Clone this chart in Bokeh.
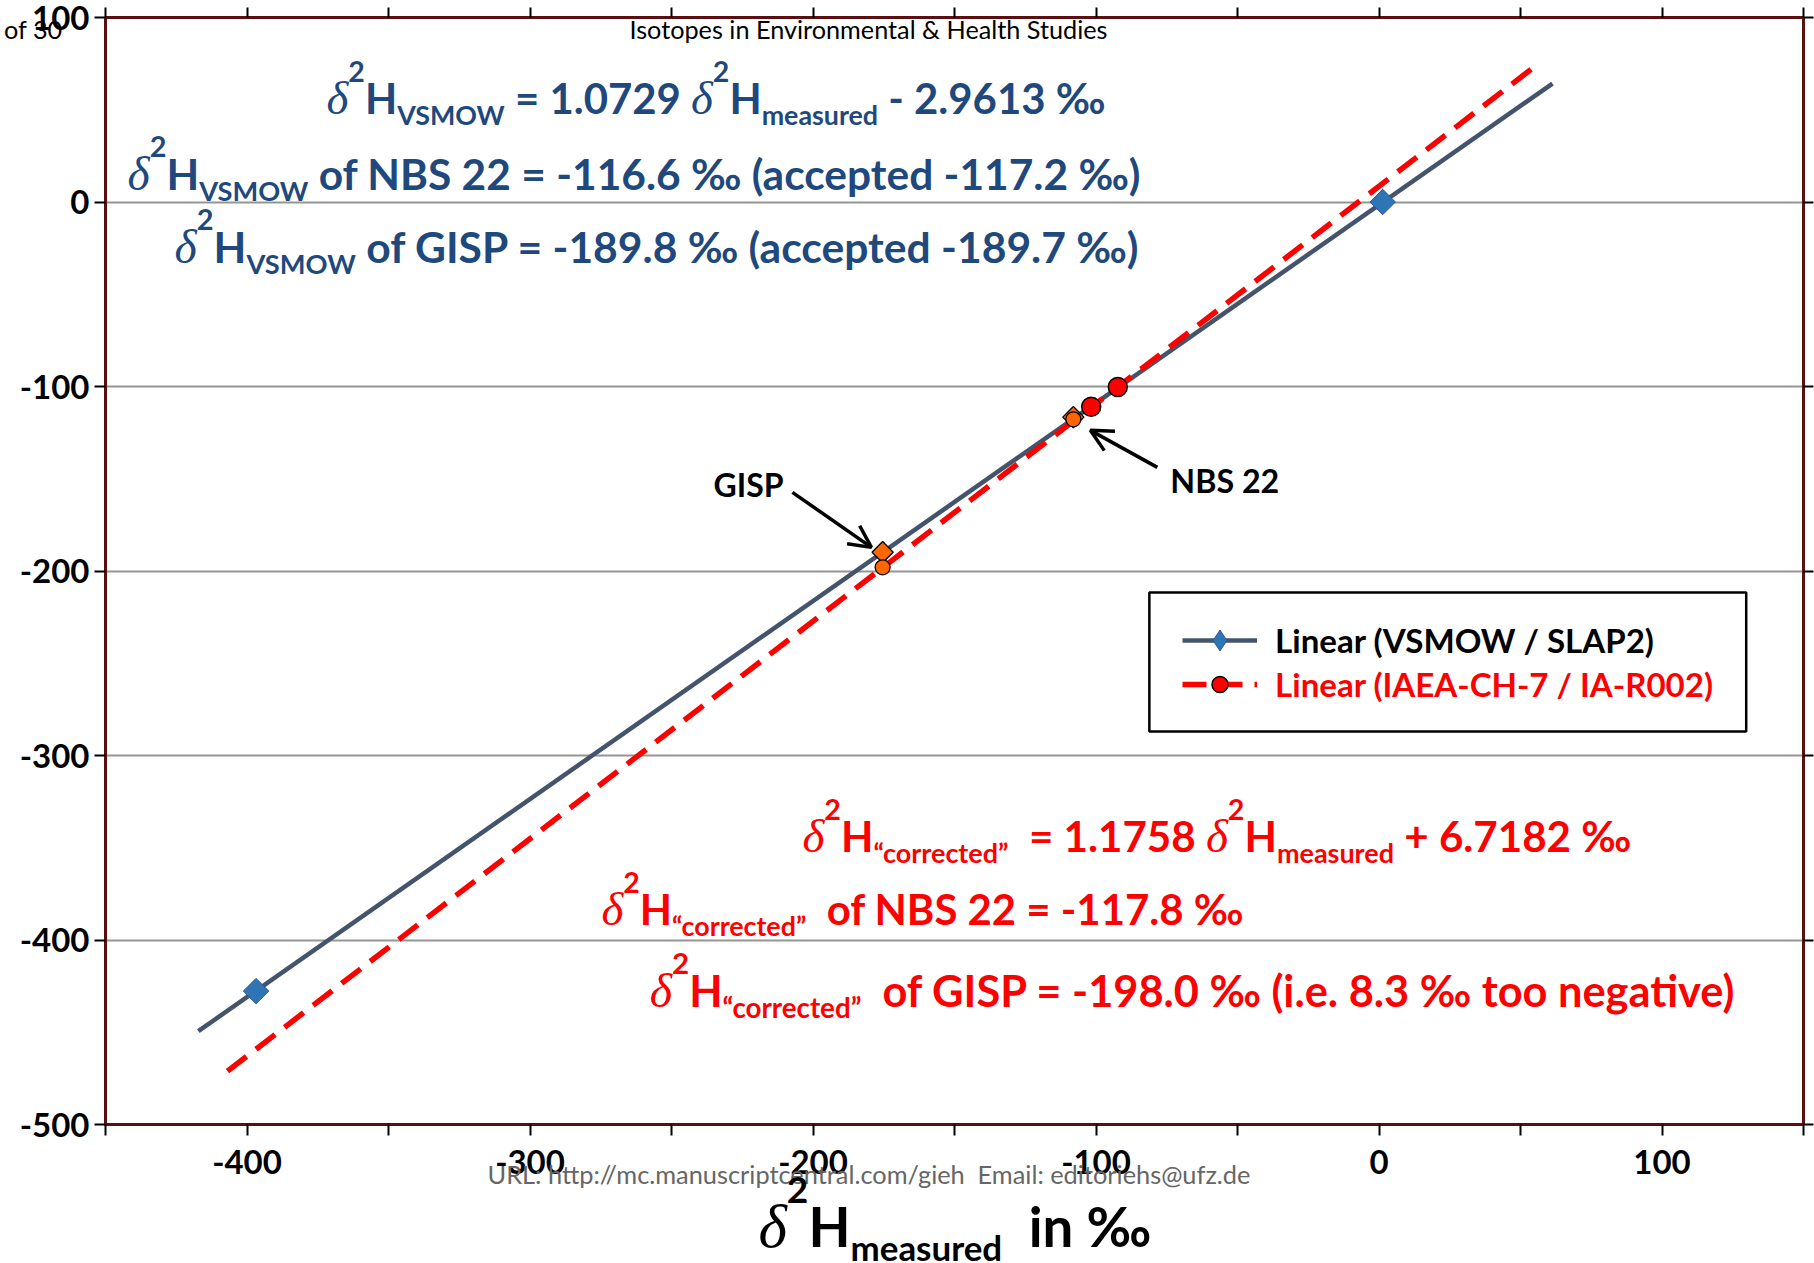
import os
import subprocess
from bokeh.plotting import figure
from bokeh.models import (Range1d, LinearAxis, FixedTicker, LabelSet, Label, Arrow, OpenHead,
                          BoxAnnotation, Legend, LegendItem, Grid, ColumnDataSource, GridBox)
from bokeh.core.properties import field
from bokeh.embed import file_html
from bokeh.resources import INLINE

# ---------------- data ----------------
std_vsmow_x = [1.3, -396.8]        # VSMOW, SLAP2 (measured)
std_vsmow_y = [0.0, -427.7]        # accepted VSMOW scale
std_ch7_x = [-92.3, -101.7]        # IAEA-CH-7, IA-R002 (measured)
std_ch7_y = [-100.3, -111.0]
sample_names = ["NBS 22", "GISP"]
sample_x = [-108.0, -175.4]
sample_vsmow_y = [-116.6, -189.8]
sample_corr_y = [-117.8, -198.0]
fit_vsmow_x = [-417.2, 61.3]
fit_vsmow_y = [-449.4, 64.2]
fit_ch7_x = [-406.9, 55.2]
fit_ch7_y = [-471.1, 73.6]
x_label_ticks = [-400, -300, -200, -100, 0, 100]
x_minor_ticks = [-450, -350, -250, -150, -50, 50, 150]
x_all_ticks = [-450, -400, -350, -300, -250, -200, -150, -100, -50, 0, 50, 100, 150]
y_ticks = [-500, -400, -300, -200, -100, 0, 100]
grid_ticks = [-400, -300, -200, -100, 0]

X_RANGE = (-450, 150)
Y_RANGE = (-500, 100)

# ---------------- text measuring ----------------
_fcache = {}


def _font_file(family, style):
    pat = family
    if "bold" in style:
        pat += ":bold"
    if "italic" in style:
        pat += ":italic"
    try:
        out = subprocess.run(["fc-match", "-f", "%{file}", pat], capture_output=True,
                             text=True, timeout=10).stdout.strip()
        if out and os.path.exists(out):
            return out
    except Exception:
        pass
    return None


def _pil_font(family, style):
    key = (family, style)
    if key not in _fcache:
        f = None
        try:
            from PIL import ImageFont
            path = _font_file(family, style)
            if path:
                f = ImageFont.truetype(path, 200)
        except Exception:
            f = None
        _fcache[key] = f
    return _fcache[key]


FAM = {"b": ("Lato", "bold"), "r": ("Lato", "normal"), "d": ("Liberation Serif", "italic"),
       "sup": ("Lato", "bold"), "sub": ("Lato", "bold")}
REL = {"b": 1.0, "r": 1.0, "d": 1.12, "sup": 0.68, "sub": 0.64}
SHIFT = {"b": 0.0, "r": 0.0, "d": 0.0, "sup": 0.78, "sub": -0.25}
LABEL_VOFF = {"Lato": 0.39, "Liberation Serif": 0.34}   # baseline correction for Label


def tw(text, st, size):
    fam, style = FAM[st]
    f = _pil_font(fam, style)
    if f is None:
        return 0.55 * size * len(text)
    return f.getlength(text) * size / 200.0


# reference pixel -> data mapping for annotation placement
PX0, PXS = 1378.7, 2.8307
PY0, PYS = 201.7, 1.8446


def dx(X):
    return (X - PX0) / PXS


def dy(Y):
    return (PY0 - Y) / PYS


W_PAGE, H_PAGE = 1814, 1263

p = figure(width=W_PAGE, height=H_PAGE, x_range=Range1d(*X_RANGE), y_range=Range1d(*Y_RANGE),
           output_backend="svg", toolbar_location=None, x_axis_location=None, y_axis_location=None,
           min_border_left=105, min_border_right=11, min_border_top=17, min_border_bottom=139,
           background_fill_color="white", border_fill_color="white")
p.grid.visible = False
p.outline_line_color = "#5a1010"
p.outline_line_width = 3

AXC = "#5a1010"
tick_size = 33


def make_axis(ticker, out, label_size, standoff, overrides=None):
    ax = LinearAxis(ticker=ticker, axis_line_color=AXC, axis_line_width=3,
                    major_tick_in=0, major_tick_out=out, minor_tick_in=0, minor_tick_out=out,
                    major_tick_line_color="black", major_tick_line_width=2,
                    minor_tick_line_color="black", minor_tick_line_width=2,
                    major_label_text_font="Lato", major_label_text_font_style="bold",
                    major_label_text_font_size=label_size, major_label_text_color="black",
                    major_label_standoff=standoff)
    if overrides:
        ax.major_label_overrides = overrides
    return ax


p.add_layout(make_axis(FixedTicker(ticks=x_label_ticks, minor_ticks=x_minor_ticks), 11,
                       f"{tick_size}px", 14, {float(t): str(t) for t in x_label_ticks}), "below")
p.add_layout(make_axis(FixedTicker(ticks=y_ticks, minor_ticks=[]), 11, f"{tick_size}px", 5,
                       {float(t): str(t) for t in y_ticks}), "left")
# top and right axes carry ticks only (drawn as minor ticks, so no labels)
p.add_layout(make_axis(FixedTicker(ticks=[], minor_ticks=x_all_ticks), 10, "10px", 0), "above")
p.add_layout(make_axis(FixedTicker(ticks=[], minor_ticks=y_ticks), 10, "10px", 0), "right")
p.add_layout(Grid(dimension=1, ticker=FixedTicker(ticks=grid_ticks), grid_line_color="#959595",
                  grid_line_width=2))

# ---------------- marks ----------------
l_vsmow = p.line(fit_vsmow_x, fit_vsmow_y, line_color="#44546A", line_width=4.5)
l_ch7 = p.line(fit_ch7_x, fit_ch7_y, line_color="#FF0000", line_width=5.5, line_dash="24 12")
s_vsmow = p.scatter(std_vsmow_x, std_vsmow_y, marker="square", angle=0.7854, size=18,
                    fill_color="#2E75B6", line_color="#2F5597", line_width=1)
s_ch7 = p.scatter(std_ch7_x, std_ch7_y, marker="circle", size=19, fill_color="#FF0000",
                  line_color="black", line_width=1.5)
p.scatter(sample_x, sample_vsmow_y, marker="square", angle=0.7854, size=15,
          fill_color="#FF6600", line_color="black", line_width=1.3)
p.scatter(sample_x, sample_corr_y, marker="circle", size=15, fill_color="#FF6600",
          line_color="black", line_width=1.3)
# legend-only glyph (diamond symbol of the VSMOW/SLAP2 series); NaN -> nothing on the plot
leg_diamond = p.scatter(x=[float("nan")], y=[float("nan")], marker="diamond",
                        fill_color="#2E75B6", line_color="#2F5597", line_width=1)


# ---------------- text layout helpers ----------------
def rich(segs, X, Y, W, S, color):
    """Lay out a run of styled pieces; returns list of piece dicts in page pixels."""
    out = []
    base = sum(tw(t, st, S * REL[st]) for t, st in segs)
    k = W / base if base > 0 else 1.0
    S2 = S * k
    x = X
    for t, st in segs:
        size = S2 * REL[st]
        fam, style = FAM[st]
        stripped = t.lstrip(" ")
        lead = tw(t[:len(t) - len(stripped)], st, size)
        txt = stripped.rstrip(" ")
        if txt:
            out.append(dict(X=x + lead, Y=Y - S2 * SHIFT[st], text=txt, font=fam, style=style,
                            size=size, color=color, align="left"))
        x += tw(t, st, size)
    return out


def fit(text, st, W, S=40):
    w = tw(text, st, S)
    return S * W / w if w > 0 else S


def piece(X, Y, text, fam, style, size, color, align="left"):
    return dict(X=X, Y=Y, text=text, font=fam, style=style, size=size, color=color, align=align)


D = [("δ", "d"), ("2", "sup"), ("H", "b")]
BLUE = "#1F497D"
RED = "#FF0000"

inside = []
inside += rich(D + [("VSMOW", "sub"), (" = 1.0729 ", "b")] + D +
               [("measured", "sub"), (" - 2.9613 ‰", "b")], 326, 114, 779, 40, BLUE)
inside += rich(D + [("VSMOW", "sub"), (" of NBS 22 = -116.6 ‰ (accepted -117.2 ‰)", "b")],
               127, 190, 1013, 40, BLUE)
inside += rich(D + [("VSMOW", "sub"), (" of GISP = -189.8 ‰ (accepted -189.7 ‰)", "b")],
               174, 263, 964, 40, BLUE)
inside += rich(D + [("“corrected”", "sub"), ("  = 1.1758 ", "b")] + D +
               [("measured", "sub"), (" + 6.7182 ‰", "b")], 802, 852, 829, 40, RED)
inside += rich(D + [("“corrected”", "sub"), ("  of NBS 22 = -117.8 ‰", "b")],
               601, 925, 642, 40, RED)
inside += rich(D + [("“corrected”", "sub"), ("  of GISP = -198.0 ‰ (i.e. 8.3 ‰ too negative)", "b")],
               649, 1007, 1085, 40, RED)
for name, left, base, wid in [("GISP", 713, 497, 70), ("NBS 22", 1170, 493, 109)]:
    inside.append(piece(left, base, name, "Lato", "bold", fit(name, "b", wid), "black"))
hs = fit("Isotopes in Environmental & Health Studies", "r", 478)
inside.append(piece(629, 39, "Isotopes in Environmental & Health Studies", "Lato", "normal",
                    hs, "black"))

src_in = ColumnDataSource(dict(
    x=[dx(r["X"]) for r in inside], y=[dy(r["Y"]) for r in inside],
    text=[r["text"] for r in inside], font=[r["font"] for r in inside],
    style=[r["style"] for r in inside], size=[f"{r['size']:.2f}px" for r in inside],
    color=[r["color"] for r in inside], align=[r["align"] for r in inside]))
p.add_layout(LabelSet(x="x", y="y", text="text", source=src_in, text_font=field("font"),
                      text_font_style=field("style"), text_font_size=field("size"),
                      text_color=field("color"), text_align=field("align"),
                      text_baseline="alphabetic"))

# arrows
for (x0, y0, x1, y1) in [(792, 492, 871, 547), (1157, 467, 1090, 430)]:
    p.add_layout(Arrow(end=OpenHead(size=22, line_width=3.5, line_color="black"),
                       x_start=dx(x0), y_start=dy(y0), x_end=dx(x1), y_end=dy(y1),
                       line_width=3.5, line_color="black"))

# legend
p.add_layout(BoxAnnotation(left=dx(1149), right=dx(1746), top=dy(592), bottom=dy(731),
                           fill_color="white", fill_alpha=1, line_color="black",
                           line_alpha=1, line_width=2.5))
ls = (fit("Linear (VSMOW / SLAP2)", "b", 380) + fit("Linear (IAEA-CH-7 / IA-R002)", "b", 437)) / 2
FL, FB = 104.9, 1124.0
common = dict(orientation="vertical", padding=0, margin=0, spacing=0, border_line_alpha=0,
              background_fill_alpha=0, glyph_width=75, label_height=40,
              label_standoff=18, label_text_font="Lato", label_text_font_style="bold",
              label_text_font_size=f"{ls:.2f}px")
leg1 = Legend(items=[LegendItem(label="Linear (VSMOW / SLAP2)", renderers=[l_vsmow, leg_diamond])],
              location=(1182 - FL, FB - 666), label_text_color="black", glyph_height=52, **common)
leg2 = Legend(items=[LegendItem(label="Linear (IAEA-CH-7 / IA-R002)", renderers=[l_ch7, s_ch7])],
              location=(1182 - FL, FB - 704), label_text_color="#FF0000", glyph_height=40, **common)
p.add_layout(leg1)
p.add_layout(leg2)

# ---------------- texts outside the plot frame ----------------
# x axis title, footer and page counter.  They are drawn by transparent overlay sheets that
# share the frame of the chart; each piece sits in a side panel of a sheet (side panels are
# not clipped), spread over several sheets so that no panel grows beyond the chart's margins.
xt = rich(D + [("measured", "sub"), ("  in ‰", "b")], 758, 1247, 393, 56, "black")
ft = rich([("URL: http://mc.manuscriptcentral.com/gieh  ", "r"), ("Email: editoriehs@ufz.de", "r")],
          487, 1183, 763, 24, "#666666")
pc = piece(62, 39, "0 of 30", "Lato", "normal", hs, "black", align="right")

# (piece, sheet index, panel)
plan = [(xt[0], 1, "left"), (xt[1], 2, "left"), (xt[2], 1, "below"), (xt[3], 2, "below"),
        (xt[4], 0, "below"), (ft[0], 1, "below"), (ft[1], 0, "below"), (pc, 0, "left")]

sheets = []
for i in range(3):
    q = figure(width=W_PAGE, height=H_PAGE, x_range=Range1d(*X_RANGE), y_range=Range1d(*Y_RANGE),
               output_backend="svg", toolbar_location=None, x_axis_location=None,
               y_axis_location=None, min_border_left=0, min_border_right=0, min_border_top=0,
               min_border_bottom=0, background_fill_alpha=0, border_fill_alpha=0,
               outline_line_color=None)
    q.grid.visible = False
    sheets.append(q)

for r, si, panel in plan:
    lab = Label(x=dx(r["X"]), y=dy(r["Y"] - LABEL_VOFF.get(r["font"], 0.39) * r["size"]),
                text=r["text"], text_font=r["font"], text_font_style=r["style"],
                text_font_size=f"{r['size']:.2f}px", text_color=r["color"],
                text_align=r["align"], text_baseline="alphabetic")
    sheets[si].add_layout(lab, panel)

page = GridBox(children=[(p, 0, 0)] + [(q, 0, 0) for q in sheets])

open("out.html", "w").write(file_html(page, INLINE))
